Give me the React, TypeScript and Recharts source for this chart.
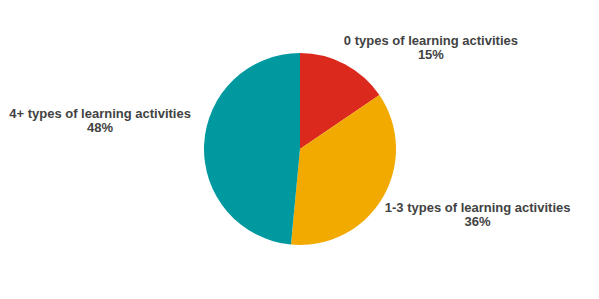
import { PieChart, Pie, Cell } from 'recharts';

const categories = ['0 types of learning activities', '1-3 types of learning activities', '4+ types of learning activities'];
const shares = [15.5, 36, 48.5];
const shareLabels = ['15%', '36%', '48%'];
const colors = ['#DC291E', '#F2A900', '#0099A0'];
// label nudges relative to the slice's outer mid point
const labelNudge = [
  { dx: 86, dy: -24 },
  { dx: 95, dy: 9 },
  { dx: -104, dy: -31 },
];

const RAD = Math.PI / 180;

const data = categories.map((name, i) => ({ name, value: shares[i] }));

function renderLabel(props: any) {
  const { cx, cy, midAngle, outerRadius, index } = props;
  const px = cx + outerRadius * Math.cos(-midAngle * RAD);
  const py = cy + outerRadius * Math.sin(-midAngle * RAD);
  const n = labelNudge[index];
  const x = px + n.dx;
  const y = py + n.dy;
  return (
    <text
      x={x}
      y={y}
      textAnchor="middle"
      fill="#424242"
      fontFamily="'Liberation Sans', Arial, sans-serif"
      fontSize={13}
      fontWeight="bold"
      dominantBaseline="central"
    >
      <tspan x={x} y={y}>{categories[index]}</tspan>
      <tspan x={x} y={y + 14}>{shareLabels[index]}</tspan>
    </text>
  );
}

export default function App() {
  return (
    <div style={{ position: 'fixed', left: 0, top: 0, width: 599, height: 299, background: '#fff' }}>
      <PieChart width={599} height={299} margin={{ top: 0, right: 0, bottom: 0, left: 0 }}>
        <Pie
          data={data}
          dataKey="value"
          nameKey="name"
          cx={300}
          cy={149}
          outerRadius={96}
          startAngle={90}
          endAngle={-270}
          stroke="none"
          label={renderLabel}
          labelLine={false}
          isAnimationActive={false}
        >
          {data.map((d, i) => (
            <Cell key={d.name} fill={colors[i]} />
          ))}
        </Pie>
      </PieChart>
    </div>
  );
}
